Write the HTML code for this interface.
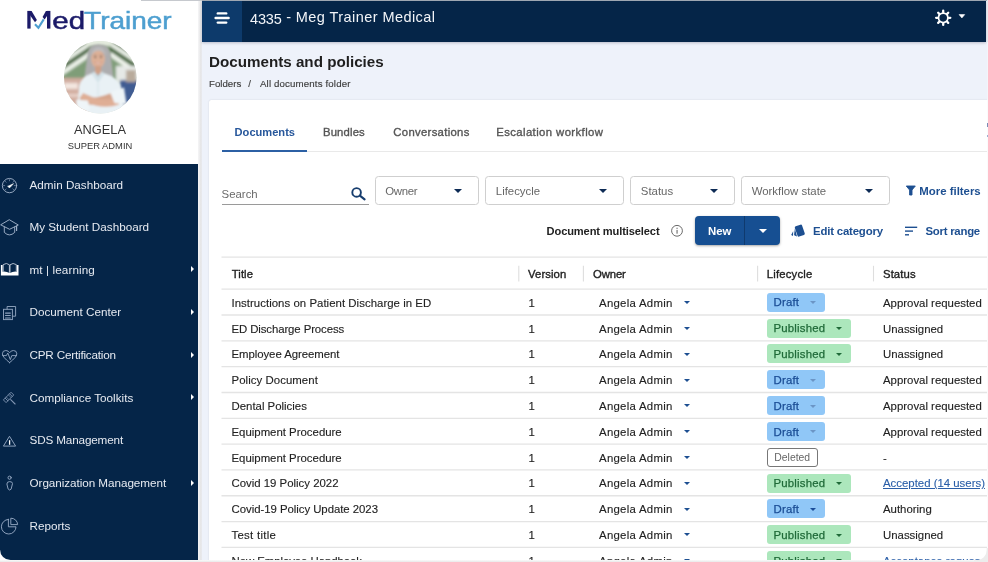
<!DOCTYPE html>
<html>
<head>
<meta charset="utf-8">
<title>Documents and policies</title>
<style>
*{box-sizing:border-box;margin:0;padding:0}
html,body{width:988px;height:562px;overflow:hidden;background:#fff}
body{font-family:"Liberation Sans",sans-serif;position:relative;color:#222}
#root{position:absolute;left:0;top:0;width:988px;height:562px;overflow:hidden;will-change:transform}
.abs{position:absolute;white-space:nowrap}
#main{position:absolute;left:198px;top:0;width:790px;height:562px;background:#eef2fa}
#gap{position:absolute;left:198px;top:0;width:4px;height:562px;background:linear-gradient(90deg,#f5f5f7 0,#eeeeef 35%,#e5e5e6 70%,#e9ebf0 100%)}
#side{position:absolute;left:0;top:0;width:198px;height:562px;background:#fff}
#nav{position:absolute;left:0;top:164px;width:198px;height:396px;background:#052548;border-bottom-left-radius:10.5px}
#topbar{position:absolute;left:202px;top:1px;width:784px;height:41px;background:#052548;box-shadow:0 1px 2.5px rgba(70,70,95,.32)}
#burger{position:absolute;left:0;top:0;width:40px;height:41px;background:#0d3a6b}
#card{position:absolute;left:208.7px;top:100px;width:790px;height:470px;background:#fff;border-radius:2.5px;box-shadow:0 0 2px rgba(0,0,0,.13)}
.nv{position:absolute;left:29.5px;color:#e6eaf1;font-size:11.7px;white-space:nowrap;line-height:14px}
.arr{position:absolute;left:190.5px;width:0;height:0;border-left:3.5px solid #fff;border-top:3px solid transparent;border-bottom:3px solid transparent}
.ico{position:absolute;overflow:visible}
.bc{top:77.7px;font-size:9.7px;line-height:12px;color:#3d3d3d;-webkit-text-stroke:.15px}
.tab{position:absolute;top:124.5px;font-size:11.3px;color:#555;-webkit-text-stroke:.35px #555;white-space:nowrap;line-height:14px}
.fbox{position:absolute;top:176px;height:29px;border:1px solid #cfcfcf;border-radius:3.5px;background:#fff}
.fbox span{position:absolute;left:9.5px;top:6.6px;font-size:11.4px;color:#666;line-height:14px;white-space:nowrap}
.fbox i{position:absolute;top:12.3px;width:0;height:0;border-top:4.2px solid #0d2b55;border-left:4px solid transparent;border-right:4px solid transparent}
.lnk{position:absolute;font-size:11.4px;font-weight:bold;color:#1d4f91;white-space:nowrap;line-height:14px}
.hl{position:absolute;left:221.5px;width:770px;height:1px;background:#e6e6e6}
.vs{position:absolute;top:266px;width:1px;height:15.5px;background:#e2e2e2}
.th{position:absolute;top:266.5px;font-size:11.3px;color:#222;-webkit-text-stroke:.35px #222;letter-spacing:.1px;white-space:nowrap;line-height:14px}
.td{position:absolute;font-size:11.4px;color:#222;white-space:nowrap;line-height:14px;-webkit-text-stroke:.12px}
.bd{position:absolute;left:767px;height:19px;border-radius:3px;font-size:11.4px;line-height:19px;white-space:nowrap;padding-left:6.5px;letter-spacing:.2px}
.bd b{font-weight:normal;position:relative;top:.6px;-webkit-text-stroke:.25px}
.bd.d{width:58.4px;background:#90c7f7;color:#1a4c94}
.bd.p{width:84.2px;background:#ace7bc;color:#1f6a38}
.bd i{position:absolute;top:8.4px;width:0;height:0;border-top:3.4px solid;border-left:3.4px solid transparent;border-right:3.4px solid transparent}
.bd.d i{left:43.2px;border-top-color:#6b95c6}
.bd.d.k i{border-top-color:#1a4c98}
.bd.p i{left:69px;border-top-color:#1f6a38}
.oc{position:absolute;left:683.6px;width:0;height:0;border-top:3.7px solid #1d4f91;border-left:3.7px solid transparent;border-right:3.7px solid transparent}
</style>
</head>
<body>
<div id="root">
<div id="main"></div>
<div id="gap"></div>
<div id="side">
<svg class="ico" style="left:0;top:0" width="198" height="164" viewBox="0 0 198 164">
<defs>
<clipPath id="avc"><circle cx="100.3" cy="77.3" r="36.3"/></clipPath>
<filter id="b1" x="-20%" y="-20%" width="140%" height="140%"><feGaussianBlur stdDeviation=".8"/></filter>
<filter id="b2" x="-20%" y="-20%" width="140%" height="140%"><feGaussianBlur stdDeviation="1.5"/></filter>
</defs>
<g fill="#1b1a68"><rect x="27.3" y="10.9" width="3.3" height="17.7"/><rect x="47" y="10.9" width="3.4" height="17.7"/><path d="M29.5 10.9 H31.6 L36.9 20 L35 22.3 L29.5 14.6Z"/><path d="M48 10.9 H45.9 L42.6 17 L44.6 19.6 L48 14.4Z"/></g>
<text x="52.3" y="28.6" font-family="Liberation Sans, sans-serif" font-size="24.6" fill="#1b1a68" stroke="#1b1a68" stroke-width=".5" textLength="32.8" lengthAdjust="spacingAndGlyphs">ed</text>
<text x="84.1" y="28.6" font-family="Liberation Sans, sans-serif" font-size="24.6" fill="#4d9fd0" stroke="#4d9fd0" stroke-width=".5" textLength="87.6" lengthAdjust="spacingAndGlyphs">Trainer</text>
<g clip-path="url(#avc)">
<rect x="60" y="38" width="80" height="80" fill="#dfe6dc"/>
<g filter="url(#b2)">
<rect x="60" y="38" width="80" height="42" fill="#7f9d78"/>
<g stroke="#f1f5ee" stroke-width="4.5">
<line x1="62" y1="62" x2="92" y2="42"/><line x1="62" y1="73" x2="90" y2="54"/><line x1="66" y1="50" x2="84" y2="39"/>
<line x1="108" y1="42" x2="138" y2="62"/><line x1="110" y1="54" x2="136" y2="72"/><line x1="116" y1="39" x2="134" y2="50"/>
</g>
<g stroke="#42633b" stroke-width="3.6">
<line x1="62" y1="67.5" x2="91" y2="48"/><line x1="109" y1="48" x2="137" y2="67"/><line x1="64" y1="56" x2="88" y2="40.5"/><line x1="112" y1="40.5" x2="136" y2="56"/>
</g>
<rect x="86" y="38" width="26" height="8" fill="#e4ebde"/>
<rect x="60" y="78" width="28" height="40" fill="#d2ada0"/>
<rect x="64" y="83" width="14" height="6" fill="#f3e6e0"/>
<rect x="62" y="94" width="18" height="3" fill="#e9d3ca"/>
<rect x="116" y="66" width="24" height="14" fill="#e6e9e6"/>
<rect x="120" y="80" width="22" height="30" fill="#3f5c92"/>
<rect x="126" y="70" width="10" height="12" fill="#b9ab9c"/>
<rect x="112" y="104" width="28" height="14" fill="#d8dde0"/>
</g>
<g filter="url(#b1)">
<path d="M87.5 54 Q88 44.5 98.5 44.2 Q109.5 44.5 110.5 54 L113.5 77 L105 80 L92 80 L84.5 77 Z" fill="#adadaf"/>
<ellipse cx="98" cy="59" rx="6.9" ry="9" fill="#ddb097"/>
<path d="M90.5 56 Q92 47.5 98.5 47.2 Q105 47.5 106.5 56 Q103 50.8 98.5 50.6 Q94 50.8 90.5 56Z" fill="#bcbcbe"/>
<rect x="95" y="66" width="6.2" height="8" fill="#cfa087"/>
<path d="M94.6 62 Q98 65.6 101.6 62 Q98 63.2 94.6 62Z" fill="#fff" stroke="#c98a7a" stroke-width=".5"/><ellipse cx="95.3" cy="57.4" rx="1" ry=".6" fill="#4a3a32"/><ellipse cx="100.9" cy="57.4" rx="1" ry=".6" fill="#4a3a32"/><path d="M93.6 55.6 Q95.3 54.8 96.8 55.6 M99.4 55.6 Q100.9 54.8 102.6 55.6" stroke="#7a6a62" stroke-width=".6" fill="none"/>
<path d="M77 118 L79 86 Q81 77 91.5 73.5 L98 79 L104.5 73.5 Q117 77 120.5 86 L125 118 Z" fill="#e9f1f5"/>
<path d="M91.5 73.5 L98 83 L104.5 73.5 L101.5 71.5 L98 76.5 L94.5 71.5Z" fill="#d4e3e9"/>
<path d="M98 83 L98 96" stroke="#d4e3e9" stroke-width="1"/>
<path d="M80 96.5 Q92 99.5 104 95.5 L119 90.5 L121 96 L104 103.5 Q90 106.5 80 102.5Z" fill="#d6a58c"/>
<path d="M118.5 98.5 Q106 100.5 96 98.5 L83 93 L80 98 L95 105.5 Q108 108.5 119 104.5Z" fill="#dfae95"/>
<path d="M110 92 L124 87.5 L126.5 104 L114.5 103Z" fill="#eff5f8"/>
<path d="M76 99.5 L88 100.5 L90 109.5 L77 112Z" fill="#eff5f8"/>
</g>
</g>
<path d="M35 24.2 L38.4 27.8 L43.7 19.4" stroke="#4d9fd0" stroke-width="2.1" fill="none"/>
</svg>
<div class="abs" id="nm" style="left:0;width:200px;text-align:center;top:123.4px;font-size:12.8px;line-height:14px;color:#333">ANGELA</div>
<div class="abs" id="ro" style="left:0;width:200px;text-align:center;top:139.6px;font-size:9.4px;line-height:12px;color:#333">SUPER ADMIN</div>
</div>
<div id="nav">
<svg class="ico" style="left:0;top:0" width="30" height="396" viewBox="0 164 30 396" fill="none" stroke="#9fb0c7" stroke-width=".95" stroke-linejoin="round" stroke-linecap="round">
<circle cx="9.5" cy="185.6" r="7.15"/>
<g stroke-width=".7" stroke="#8195b2"><line x1="9.5" y1="179.6" x2="9.5" y2="180.8"/><line x1="3.5" y1="185.6" x2="4.7" y2="185.6"/><line x1="15.5" y1="185.6" x2="14.3" y2="185.6"/><line x1="5.3" y1="181.4" x2="6.1" y2="182.2"/><line x1="13.7" y1="181.4" x2="12.9" y2="182.2"/><line x1="5.3" y1="189.8" x2="6.1" y2="189"/><line x1="13.7" y1="189.8" x2="12.9" y2="189"/></g>
<path d="M8 186.2 L13.6 183.6 L10 187.6 Q8.4 188 8 186.2Z" fill="#fff" stroke="#fff" stroke-width=".5"/>
<path d="M9.6 219.9 L18.3 225 L9.6 229.3 L1 225Z"/>
<path d="M4.3 227 V232.4 Q9.5 237.4 14.7 232.4 V227"/>
<path d="M16.6 226 V230.4" stroke-width="1.2"/>
<path d="M0.9 265 H2.6 V272 H0.9Z M16.9 265 H18.5 V272 H16.9Z M0.9 275.6 V271.9 Q5.5 270.7 9.7 273 Q13.9 270.7 18.5 271.9 V275.6Z" fill="#fff" stroke="none"/>
<path d="M3.2 271.4 V264.6 Q6.5 262.3 9.4 264.8 V272.4" stroke="#c3ccd9" stroke-width=".9"/>
<path d="M16.3 271.4 V264.6 Q13 262.3 10 264.8 V272.4" stroke="#c3ccd9" stroke-width=".9"/>
<g stroke="#8fa3be" stroke-linejoin="miter"><path d="M7.1 309 V306.5 H15.6 V316.2 H12.8"/><rect x="3.5" y="309.3" width="8.9" height="10.3"/><g stroke-width="1.1"><line x1="5.5" y1="313.1" x2="10.3" y2="313.1"/><line x1="5.5" y1="315.5" x2="10.3" y2="315.5"/><line x1="5.5" y1="318" x2="10.3" y2="318"/></g></g>
<g stroke="#8fa3be"><path d="M9.6 362.6 Q2.4 357 2.4 353.8 Q2.4 350.5 5.8 350.5 Q8.3 350.5 9.6 352.8 Q10.9 350.5 13.4 350.5 Q16.8 350.5 16.8 353.8 Q16.8 357 9.6 362.6Z"/><path d="M2.6 355.6 H6.4 L7.8 353 L10.3 359.6 L11.8 355.6 H16.6"/></g>
<g stroke="#8195b2"><g transform="rotate(-45 8.7 397.3)" stroke-width=".85"><rect x="3.5" y="395.4" width="10.4" height="3.8"/><line x1="5.6" y1="395.4" x2="5.6" y2="399.2"/><line x1="11.8" y1="395.4" x2="11.8" y2="399.2"/><line x1="7.2" y1="395.4" x2="7.2" y2="399.2" stroke-width=".6"/><line x1="10.2" y1="395.4" x2="10.2" y2="399.2" stroke-width=".6"/></g><line x1="10.7" y1="399.6" x2="15.1" y2="404" stroke-width="1.1"/></g>
<path d="M9.7 436.6 L15.6 446.1 H3.8Z" stroke="#93a7c1"/>
<path d="M9.6 440.2 V444.8" stroke="#fff" stroke-width="1.3" stroke-linecap="butt"/>
<g stroke="#93a7c1"><circle cx="9.6" cy="477.7" r="1.6"/><path d="M6.9 483.6 Q6.9 481.6 9.7 481.6 Q12.5 481.6 12.5 483.6 L11.1 489.2 Q9.7 491 8.3 489.2Z"/></g>
<g stroke="#93a7c1"><path d="M8.4 519.4 V526.8 H16 A7.3 7.3 0 1 1 8.4 519.4Z"/><path d="M11.2 518.2 A6.4 6.4 0 0 1 17.6 524.6 H11.2Z"/></g>
</svg>
<div class="nv" id="nv0" style="top:13.5px">Admin Dashboard</div>
<div class="nv" id="nv1" style="top:56.1px">My Student Dashboard</div>
<div class="nv" id="nv2" style="top:98.8px;letter-spacing:0.1px">mt | learning</div>
<div class="arr" style="top:102.4px"></div>
<div class="nv" id="nv3" style="top:141.4px">Document Center</div>
<div class="arr" style="top:145.0px"></div>
<div class="nv" id="nv4" style="top:184.1px;letter-spacing:-0.19px">CPR Certification</div>
<div class="arr" style="top:187.7px"></div>
<div class="nv" id="nv5" style="top:226.8px">Compliance Toolkits</div>
<div class="arr" style="top:230.3px"></div>
<div class="nv" id="nv6" style="top:269.4px;letter-spacing:-0.14px">SDS Management</div>
<div class="nv" id="nv7" style="top:312.1px;letter-spacing:-0.05px">Organization Management</div>
<div class="arr" style="top:315.6px"></div>
<div class="nv" id="nv8" style="top:354.7px">Reports</div>
</div>
<div id="topbar"><div id="burger"></div>
<svg class="ico" style="left:0;top:0" width="784" height="41" viewBox="0 0 784 41">
<g stroke="#fff" stroke-width="2.4" stroke-linecap="round">
<line x1="15.8" y1="12.4" x2="24.2" y2="12.4"/><line x1="13.6" y1="17" x2="26.6" y2="17"/><line x1="15.8" y1="21.6" x2="24.2" y2="21.6"/>
</g>
<g transform="translate(741.2,16.8)" fill="none" stroke="#fff">
<circle r="4.7" stroke-width="1.75"/>
<g stroke-width="2.3" stroke-linecap="round">
<line x1="0" y1="-5.6" x2="0" y2="-7.1"/><line x1="0" y1="5.6" x2="0" y2="7.1"/><line x1="-5.6" y1="0" x2="-7.1" y2="0"/><line x1="5.6" y1="0" x2="7.1" y2="0"/>
<line x1="3.96" y1="-3.96" x2="5.02" y2="-5.02"/><line x1="-3.96" y1="-3.96" x2="-5.02" y2="-5.02"/><line x1="3.96" y1="3.96" x2="5.02" y2="5.02"/><line x1="-3.96" y1="3.96" x2="-5.02" y2="5.02"/>
</g></g>
<path d="M757.1 13.6 L762.7 13.6 L759.9 16.9 Z" fill="#fff" stroke="#fff" stroke-width=".6" stroke-linejoin="round"/>
</svg>
<div class="abs" id="org" style="left:48px;top:7.1px;font-size:14.5px;line-height:18px;color:#f2f4f8;letter-spacing:.43px"><span style="position:relative;top:1.7px;letter-spacing:-.15px">4335</span> - Meg Trainer Medical</div>
</div>
<div id="card"></div>
<div class="abs" id="ttl" style="left:209px;top:52.6px;font-size:15.2px;font-weight:bold;line-height:18px;color:#1f1f1f">Documents and policies</div>
<div class="abs bc" id="bc" style="left:209px">Folders</div><div class="abs bc" style="left:248.3px">/</div><div class="abs bc" id="bc2" style="left:260px;letter-spacing:.14px">All documents folder</div>
<div class="tab" id="t0" style="left:234.6px;color:#27579b;-webkit-text-stroke:0;font-weight:bold;font-size:11.1px">Documents</div>
<div class="tab" id="t1" style="left:323px;letter-spacing:.15px">Bundles</div>
<div class="tab" id="t2" style="left:393.3px;letter-spacing:.32px">Conversations</div>
<div class="tab" id="t3" style="left:496.2px;letter-spacing:.42px">Escalation workflow</div>
<div class="abs" style="left:221.5px;top:151px;width:770px;height:1px;background:#e9e9e9"></div>
<div class="abs" style="left:221.5px;top:150px;width:85.3px;height:2.3px;background:#2c60a4"></div>
<div class="abs" id="srch" style="left:221.6px;top:187.4px;font-size:11.4px;line-height:14px;color:#6a6a6a">Search</div>
<div class="abs" style="left:221.5px;top:203.6px;width:147px;height:1px;background:#9a9a9a"></div>
<svg class="ico" style="left:350px;top:186px" width="18" height="16" viewBox="0 0 18 16"><circle cx="6.6" cy="6.4" r="4.3" fill="none" stroke="#173d6e" stroke-width="1.9"/><line x1="9.9" y1="9.7" x2="14.6" y2="13.4" stroke="#173d6e" stroke-width="2.1" stroke-linecap="round"/></svg>
<div class="fbox" style="left:375px;width:103.6px"><span style="letter-spacing:-.35px;left:9.3px">Owner</span><i style="left:78px"></i></div>
<div class="fbox" style="left:485.3px;width:138.6px"><span>Lifecycle</span><i style="left:113px"></i></div>
<div class="fbox" style="left:630.3px;width:104.4px"><span>Status</span><i style="left:78.4px"></i></div>
<div class="fbox" style="left:741.2px;width:148.8px"><span>Workflow state</span><i style="left:123px"></i></div>
<svg class="ico" style="left:905px;top:185px" width="12" height="12" viewBox="0 0 12 12"><path d="M1.3 1 H10.3 L7 5 V10 H4.6 V5 Z" fill="#1d4f91" stroke="#1d4f91" stroke-width=".9" stroke-linejoin="round"/></svg>
<div class="lnk" id="mf" style="left:919.3px;top:183.8px">More filters</div>
<div class="abs" id="dm" style="left:546.6px;top:224px;font-size:11.1px;font-weight:bold;line-height:14px;color:#222;letter-spacing:-.12px">Document multiselect</div>
<svg class="ico" style="left:670px;top:224px" width="14" height="14" viewBox="0 0 14 14"><circle cx="7" cy="6.8" r="5.4" fill="none" stroke="#6b6b6b" stroke-width="1"/><rect x="6.5" y="5.9" width="1.1" height="3.8" fill="#6b6b6b"/><rect x="6.5" y="3.7" width="1.1" height="1.2" fill="#6b6b6b"/></svg>
<div class="abs" style="left:695px;top:216.3px;width:85.2px;height:28.6px;background:#164f92;border-radius:4px;box-shadow:0 1px 2.5px rgba(0,0,0,.35)"></div>
<div class="abs" style="left:744px;top:216.3px;width:1px;height:28.6px;background:#0f3a6e"></div>
<div class="abs" id="nw" style="left:708px;top:224px;font-size:11.4px;font-weight:bold;line-height:14px;color:#fff">New</div>
<div class="abs" style="left:758.8px;top:229px;width:0;height:0;border-top:4px solid #fff;border-left:4px solid transparent;border-right:4px solid transparent"></div>
<svg class="ico" style="left:790px;top:223px" width="16" height="15" viewBox="0 0 16 15"><g fill="#1d4f91"><rect x="6" y="2.2" width="7.6" height="10.8" rx="1.3" transform="rotate(-19 9.8 7.6)"/><path d="M4.9 5.6 L7 13.4 L4.6 12.6 Q4 12.3 4.1 11.6Z"/><path d="M3.2 8.2 L3 13 L1.6 12.3 Q1.2 11.9 1.4 11.4Z"/></g></svg>
<div class="lnk" id="ec" style="left:813px;top:224px;letter-spacing:-.18px">Edit category</div>
<svg class="ico" style="left:904px;top:225px" width="14" height="12" viewBox="0 0 14 12"><g stroke="#1d4f91" stroke-width="1.4"><line x1="1" y1="2.3" x2="13.2" y2="2.3"/><line x1="1" y1="6.1" x2="9" y2="6.1"/><line x1="1" y1="9.8" x2="5" y2="9.8"/></g></svg>
<div class="lnk" id="sr" style="left:925.4px;top:224px;letter-spacing:-.24px">Sort range</div>
<svg class="ico" style="left:221px;top:250px" width="767" height="312" viewBox="221 250 767 312"><g stroke="#e4e4e4" stroke-width="1.3"><line x1="221.5" y1="257.1" x2="988" y2="257.1"/><line x1="221.5" y1="289.20" x2="988" y2="289.20"/><line x1="221.5" y1="315.02" x2="988" y2="315.02"/><line x1="221.5" y1="340.84" x2="988" y2="340.84"/><line x1="221.5" y1="366.66" x2="988" y2="366.66"/><line x1="221.5" y1="392.48" x2="988" y2="392.48"/><line x1="221.5" y1="418.30" x2="988" y2="418.30"/><line x1="221.5" y1="444.12" x2="988" y2="444.12"/><line x1="221.5" y1="469.94" x2="988" y2="469.94"/><line x1="221.5" y1="495.76" x2="988" y2="495.76"/><line x1="221.5" y1="521.58" x2="988" y2="521.58"/><line x1="221.5" y1="547.40" x2="988" y2="547.40"/></g><g stroke="#dedede" stroke-width="1.1"><line x1="518.8" y1="265.8" x2="518.8" y2="281.4"/><line x1="583.4" y1="265.8" x2="583.4" y2="281.4"/><line x1="757.6" y1="265.8" x2="757.6" y2="281.4"/><line x1="873.5" y1="265.8" x2="873.5" y2="281.4"/></g></svg>
<div class="th" id="h0" style="left:231.7px">Title</div><div class="th" id="h1" style="left:528px">Version</div><div class="th" id="h2" style="left:593px;letter-spacing:-.1px">Owner</div><div class="th" id="h3" style="left:766.7px;letter-spacing:.2px">Lifecycle</div><div class="th" id="h4" style="left:883px">Status</div>
<div class="td" id="r0a" style="left:231.5px;top:295.70px;letter-spacing:0.04px">Instructions on Patient Discharge in ED</div><div class="td" style="left:528.6px;top:295.70px">1</div><div class="td" id="r0o" style="left:599px;top:295.70px;letter-spacing:.28px">Angela Admin</div><div class="oc" style="top:301.10px"></div><div class="bd d" style="top:292.85px"><b>Draft</b><i></i></div><div class="td" id="r0s" style="left:883px;top:295.70px">Approval requested</div>
<div class="td" id="r1a" style="left:231.5px;top:321.52px;letter-spacing:-0.1px">ED Discharge Process</div><div class="td" style="left:528.6px;top:321.52px">1</div><div class="td" id="r1o" style="left:599px;top:321.52px;letter-spacing:.28px">Angela Admin</div><div class="oc" style="top:326.92px"></div><div class="bd p" style="top:318.67px"><b>Published</b><i></i></div><div class="td" id="r1s" style="left:883px;top:321.52px">Unassigned</div>
<div class="td" id="r2a" style="left:231.5px;top:347.34px;letter-spacing:-0.06px">Employee Agreement</div><div class="td" style="left:528.6px;top:347.34px">1</div><div class="td" id="r2o" style="left:599px;top:347.34px;letter-spacing:.28px">Angela Admin</div><div class="oc" style="top:352.74px"></div><div class="bd p" style="top:344.49px"><b>Published</b><i></i></div><div class="td" id="r2s" style="left:883px;top:347.34px">Unassigned</div>
<div class="td" id="r3a" style="left:231.5px;top:373.16px;letter-spacing:0.06px">Policy Document</div><div class="td" style="left:528.6px;top:373.16px">1</div><div class="td" id="r3o" style="left:599px;top:373.16px;letter-spacing:.28px">Angela Admin</div><div class="oc" style="top:378.56px"></div><div class="bd d" style="top:370.31px"><b>Draft</b><i></i></div><div class="td" id="r3s" style="left:883px;top:373.16px">Approval requested</div>
<div class="td" id="r4a" style="left:231.5px;top:398.98px">Dental Policies</div><div class="td" style="left:528.6px;top:398.98px">1</div><div class="td" id="r4o" style="left:599px;top:398.98px;letter-spacing:.28px">Angela Admin</div><div class="oc" style="top:404.38px"></div><div class="bd d" style="top:396.13px"><b>Draft</b><i></i></div><div class="td" id="r4s" style="left:883px;top:398.98px">Approval requested</div>
<div class="td" id="r5a" style="left:231.5px;top:424.80px">Equipment Procedure</div><div class="td" style="left:528.6px;top:424.80px">1</div><div class="td" id="r5o" style="left:599px;top:424.80px;letter-spacing:.28px">Angela Admin</div><div class="oc" style="top:430.20px"></div><div class="bd d" style="top:421.95px"><b>Draft</b><i></i></div><div class="td" id="r5s" style="left:883px;top:424.80px">Approval requested</div>
<div class="td" id="r6a" style="left:231.5px;top:450.62px">Equipment Procedure</div><div class="td" style="left:528.6px;top:450.62px">1</div><div class="td" id="r6o" style="left:599px;top:450.62px;letter-spacing:.28px">Angela Admin</div><div class="oc" style="top:456.02px"></div><div class="abs" style="left:767px;top:447.57px;width:50.5px;height:19.5px;border:1px solid #777;border-radius:3px;background:#fff;font-size:10.4px;line-height:17.6px;color:#666;text-align:center">Deleted</div><div class="td" id="r6s" style="left:883px;top:450.62px">-</div>
<div class="td" id="r7a" style="left:231.5px;top:476.44px">Covid 19 Policy 2022</div><div class="td" style="left:528.6px;top:476.44px">1</div><div class="td" id="r7o" style="left:599px;top:476.44px;letter-spacing:.28px">Angela Admin</div><div class="oc" style="top:481.84px"></div><div class="bd p" style="top:473.59px"><b>Published</b><i></i></div><div class="td" id="r7s" style="left:883px;top:476.44px;color:#2a5ea8;text-decoration:underline">Accepted (14 users)</div>
<div class="td" id="r8a" style="left:231.5px;top:502.26px;letter-spacing:-0.04px">Covid-19 Policy Update 2023</div><div class="td" style="left:528.6px;top:502.26px">1</div><div class="td" id="r8o" style="left:599px;top:502.26px;letter-spacing:.28px">Angela Admin</div><div class="oc" style="top:507.66px"></div><div class="bd d k" style="top:499.41px"><b>Draft</b><i></i></div><div class="td" id="r8s" style="left:883px;top:502.26px">Authoring</div>
<div class="td" id="r9a" style="left:231.5px;top:528.08px;letter-spacing:0.28px">Test title</div><div class="td" style="left:528.6px;top:528.08px">1</div><div class="td" id="r9o" style="left:599px;top:528.08px;letter-spacing:.28px">Angela Admin</div><div class="oc" style="top:533.48px"></div><div class="bd p" style="top:525.23px"><b>Published</b><i></i></div><div class="td" id="r9s" style="left:883px;top:528.08px">Unassigned</div>
<div class="td" id="r10a" style="left:231.5px;top:553.90px;letter-spacing:-0.06px">New Employee Handbook</div><div class="td" style="left:528.6px;top:553.90px">1</div><div class="td" id="r10o" style="left:599px;top:553.90px;letter-spacing:.28px">Angela Admin</div><div class="oc" style="top:559.30px"></div><div class="bd p" style="top:551.05px"><b>Published</b><i></i></div><div class="td" id="r10s" style="left:883px;top:553.90px;color:#2a5ea8;text-decoration:underline">Acceptance reques</div>
<div class="abs" style="left:141px;top:0;width:61px;height:1px;background:#c6c9ce"></div>
<div class="abs" style="left:202px;top:0;width:786px;height:1px;background:#9fa7b2"></div>
<div class="abs" style="left:986.6px;top:0;width:2px;height:562px;background:linear-gradient(#e6e9ee 0,#e6e9ee 42px,#f3f5fa 42px,#f3f5fa 100px,#fbfbfc 100px)"></div>
<div class="abs" style="left:986.6px;top:123px;width:2px;height:4px;background:#7a8bb5"></div><div class="abs" style="left:986.6px;top:135px;width:2px;height:2px;background:#9db0d2"></div>
<div class="abs" style="left:0;top:560px;width:988px;height:2px;background:linear-gradient(#fafafa,#e9e9e9)"></div>
<svg class="ico" style="left:974px;top:548px" width="14" height="14" viewBox="0 0 14 14"><path d="M14 0 V14 H0 V12.2 H2.6 A10 10 0 0 0 12.7 2 V0Z" fill="#ececec"/></svg>
</div>
</body>
</html>
